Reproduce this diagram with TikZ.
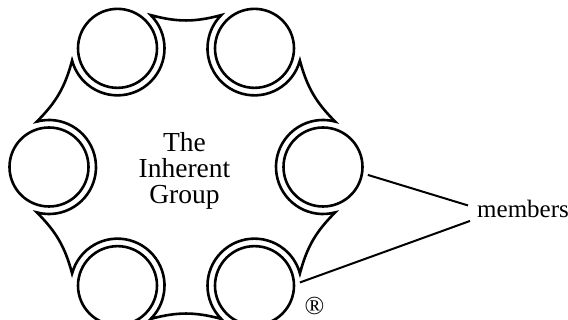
\documentclass[tikz,border=0pt]{standalone}
\usepackage{fontspec}
\setmainfont{Liberation Serif}
\usetikzlibrary{calc}

\begin{document}
\begin{tikzpicture}[
    x=1pt, y=1pt,
    member/.style={
        circle,
        draw,
        line width=2.6pt,
        minimum size=79pt,
        inner sep=0pt,
        outer sep=6pt
    },
    outline/.style={
        line width=2.6pt,
        miter limit=25
    },
    pointer/.style={
        line width=2pt
    }
]

% Area
\path[use as bounding box] (0,0) rectangle (568,-320);
\clip (0,0) rectangle (568,-320);

\coordinate (O) at (186,-167);

% Members
\node[member] (r)  at ($(O)+(0:137)$)   {};
\node[member] (tr) at ($(O)+(60:137)$)  {};
\node[member] (tl) at ($(O)+(120:137)$) {};
\node[member] (l)  at ($(O)+(180:137)$) {};
\node[member] (bl) at ($(O)+(240:137)$) {};
\node[member] (br) at ($(O)+(300:137)$) {};

% Ring ends (cusps)
\foreach \n/\a in {r/0,tr/60,tl/120,l/180,bl/240,br/300} {
    \coordinate (\n-a) at ([shift={(\a+285:47)}]\n.center);
    \coordinate (\n-b) at ([shift={(\a+75:47)}]\n.center);
}

% Group outline
\draw[outline] (r-b)
    \foreach \m/\a [evaluate=\a as \o using int(\a+135),
                    evaluate=\a as \i using int(\a+285),
                    evaluate=\a as \s using int(\a+345),
                    evaluate=\a as \e using int(\a+135)]
        in {tr/0,tl/60,l/120,bl/180,br/240,r/300} {
        to[out=\o, in=\i] (\m-a)
        arc[start angle=\s, end angle=\e, radius=47]
    } -- cycle;

% Labels
\node[align=center, font=\fontsize{27.5}{26}\selectfont] (group) at (184.5,-171) {The\\Inherent\\Group};
\node[anchor=base west, inner sep=0pt, font=\fontsize{25}{30}\selectfont] (mem) at (477,-218) {members};
\node[inner sep=0pt, font=\fontsize{26}{28}\selectfont] (reg) at (314.5,-305.5) {®};

% Pointers
\draw[pointer] (r.-10) -- ([xshift=-9pt,yshift=4pt]mem.west);
\draw[pointer] (br.4) -- ([xshift=-7pt,yshift=-11.5pt]mem.west);

\end{tikzpicture}
\end{document}
